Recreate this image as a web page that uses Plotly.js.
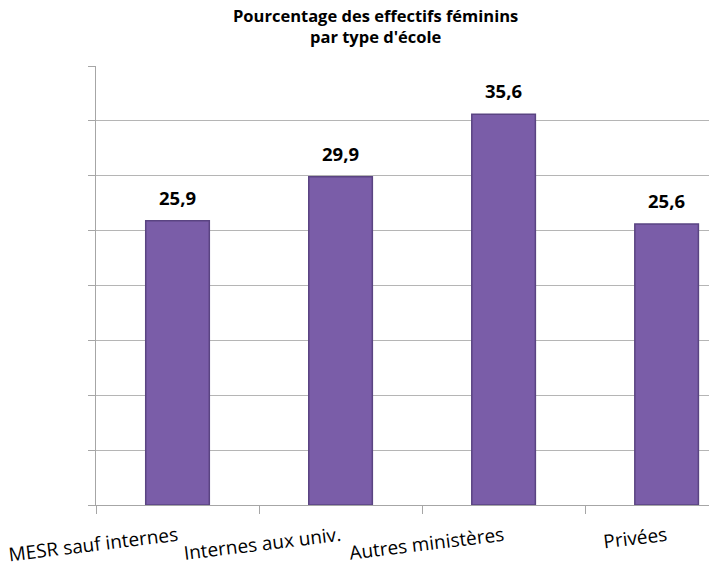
<!DOCTYPE html>
<html>
<head>
<meta charset="utf-8">
<script src="https://cdn.plot.ly/plotly-3.0.1.min.js"></script>
<style>html,body{margin:0;padding:0;background:#fff;}#chart{width:709px;height:566px;}</style>
</head>
<body>
<div id="chart"></div>
<script>
const categories = ["MESR sauf internes", "Internes aux univ.", "Autres ministères", "Privées"];
const values = [25.9, 29.9, 35.6, 25.6];
const chartTitle = "Pourcentage des effectifs féminins<br>par type d'école";

const trace = {
  type: "bar",
  x: categories,
  y: values,
  width: 0.39,
  marker: {color: "#7a5da8", line: {color: "#5a4482", width: 1.5}},
  cliponaxis: false,
  hoverinfo: "none"
};

const valueLabels = categories.map((c, i) => ({
  x: c, y: values[i], xref: "x", yref: "y",
  text: values[i].toFixed(1).replace(".", ","),
  showarrow: false, xanchor: "center", yanchor: "bottom", yshift: 9,
  font: {family: "Open Sans", size: 18.5, color: "#000", weight: "bold"}
}));

const layout = {
  width: 709, height: 566,
  margin: {l: 96, r: 0, t: 66, b: 61, autoexpand: false},
  paper_bgcolor: "#fff", plot_bgcolor: "#fff",
  showlegend: false,
  annotations: [{
    text: chartTitle,
    xref: "paper", yref: "paper",
    x: (375 - 96) / 613, y: (505 - 26) / 439,
    xanchor: "center", yanchor: "middle",
    showarrow: false,
    font: {family: "Open Sans", size: 16.5, color: "#000", weight: "bold"}
  }].concat(valueLabels),
  xaxis: {
    type: "category",
    range: [-0.5, 3.26],
    tickson: "boundaries",
    ticks: "outside", ticklen: 8, tickcolor: "#a6a6a6", tickwidth: 1,
    showgrid: false,
    showline: true, linecolor: "#a6a6a6", linewidth: 1,
    tickangle: -7,
    ticklabelstandoff: 12,
    tickfont: {family: "Open Sans", size: 19, color: "#000"},
    fixedrange: true
  },
  yaxis: {
    range: [0, 40], dtick: 5, tick0: 0,
    showticklabels: false,
    ticks: "outside", ticklen: 7, tickcolor: "#a6a6a6",
    showgrid: true, gridcolor: "#b5b5b5", gridwidth: 1,
    showline: true, linecolor: "#a6a6a6", linewidth: 1,
    zeroline: false,
    fixedrange: true
  }
};

Plotly.newPlot("chart", [trace], layout, {displayModeBar: false, staticPlot: true});
</script>
</body>
</html>
